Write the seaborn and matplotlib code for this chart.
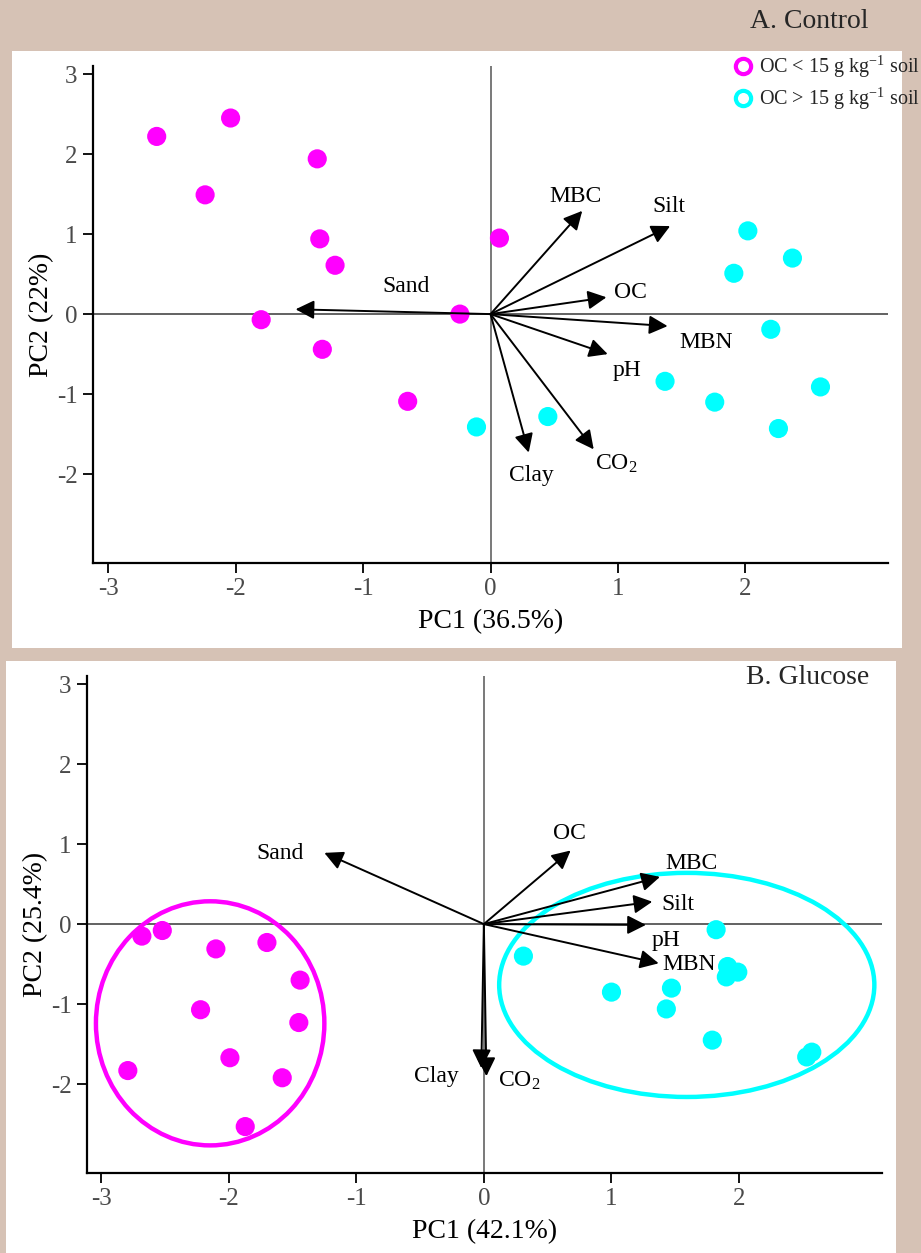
import matplotlib
matplotlib.use('Agg')
import matplotlib.pyplot as plt
import seaborn as sns
import pandas as pd
from matplotlib.patches import Ellipse, Rectangle
from matplotlib.lines import Line2D

# ---------------- data ----------------
groups = ['OC < 15 g kg$^{\\mathregular{-1}}$ soil', 'OC > 15 g kg$^{\\mathregular{-1}}$ soil']

# Panel A (Control) scores
a_low_pc1 = [-2.62, -2.04, -2.24, -1.36, -1.34, -1.22, -1.80, -1.32, -0.24, -0.65, 0.07]
a_low_pc2 = [2.22, 2.45, 1.49, 1.94, 0.94, 0.61, -0.07, -0.44, 0.00, -1.09, 0.95]
a_high_pc1 = [2.02, 2.37, 1.91, 2.20, 2.59, 1.37, 1.76, 2.26, 0.45, -0.11]
a_high_pc2 = [1.04, 0.70, 0.51, -0.19, -0.91, -0.84, -1.10, -1.43, -1.28, -1.41]

# Panel A loadings
a_vars = ['Sand', 'MBC', 'Silt', 'OC', 'MBN', 'pH', 'CO$_{\\mathregular{2}}$', 'Clay']
a_load1 = [-1.53, 0.72, 1.41, 0.91, 1.39, 0.92, 0.81, 0.30]
a_load2 = [0.06, 1.29, 1.10, 0.21, -0.15, -0.50, -1.69, -1.73]
a_lab1 = [-0.66, 0.67, 1.40, 1.10, 1.69, 1.07, 0.99, 0.32]
a_lab2 = [0.34, 1.47, 1.34, 0.27, -0.36, -0.70, -1.87, -2.02]

# Panel B (Glucose) scores
b_low_pc1 = [-2.68, -2.52, -2.10, -1.70, -1.44, -2.22, -1.45, -1.99, -2.79, -1.58, -1.87]
b_low_pc2 = [-0.15, -0.08, -0.31, -0.23, -0.70, -1.07, -1.23, -1.67, -1.83, -1.92, -2.53]
b_high_pc1 = [0.31, 1.82, 1.00, 1.47, 1.43, 1.91, 1.99, 1.90, 1.79, 2.57, 2.53]
b_high_pc2 = [-0.40, -0.07, -0.85, -0.80, -1.06, -0.53, -0.60, -0.66, -1.45, -1.60, -1.66]

# Panel B loadings
b_vars = ['Sand', 'OC', 'MBC', 'Silt', 'pH', 'MBN', 'CO$_{\\mathregular{2}}$', 'Clay']
b_load1 = [-1.25, 0.68, 1.38, 1.32, 1.27, 1.37, 0.02, -0.02]
b_load2 = [0.89, 0.92, 0.59, 0.28, -0.01, -0.49, -1.90, -1.80]
b_lab1 = [-1.60, 0.67, 1.63, 1.52, 1.43, 1.61, 0.28, -0.37]
b_lab2 = [0.88, 1.13, 0.76, 0.25, -0.20, -0.51, -1.96, -1.91]

# Panel B group ellipses (centre x, centre y, width, height)
b_ell_low = [-2.145, -1.24, 1.79, 3.05]
b_ell_high = [1.59, -0.76, 2.94, 2.80]

xticks = [-3, -2, -1, 0, 1, 2]
yticks = [-2, -1, 0, 1, 2, 3]

MAGENTA = '#FF00FF'
CYAN = '#00FFFF'
TAN = '#D6C2B5'

# ---------------- style ----------------
sns.set_style('white')
plt.rcParams['font.family'] = ['Liberation Serif', 'DejaVu Serif']
plt.rcParams['mathtext.fontset'] = 'custom'
plt.rcParams['mathtext.rm'] = 'Liberation Serif'
plt.rcParams['mathtext.it'] = 'Liberation Serif:italic'

W, H = 921, 1253
fig = plt.figure(figsize=(W / 100, H / 100), dpi=100, facecolor=TAN)


def px_rect(x0, y0, x1, y1):
    return (x0 / W, 1 - y1 / H, (x1 - x0) / W, (y1 - y0) / H)


for (x0, y0, x1, y1) in [(12, 51, 902, 648), (6, 661, 896, 1253)]:
    l, b, w, h = px_rect(x0, y0, x1, y1)
    fig.add_artist(Rectangle((l, b), w, h, transform=fig.transFigure,
                             facecolor='white', edgecolor='none', zorder=-5))

axA = fig.add_axes(px_rect(93, 66, 888, 563))
axB = fig.add_axes(px_rect(87, 676, 882, 1173))


def make_df(l1, l2, h1, h2):
    return pd.DataFrame({
        'PC1': l1 + h1,
        'PC2': l2 + h2,
        'group': [groups[0]] * len(l1) + [groups[1]] * len(h1),
    })


def style_axes(ax, xlabel, ylabel, ylim, xlim):
    ax.set_facecolor('none')
    ax.set_xlim(*xlim)
    ax.set_ylim(*ylim)
    ax.axhline(0, color='#555555', lw=1.3, zorder=1)
    ax.axvline(0, color='#555555', lw=1.1, zorder=1)
    for s in ['top', 'right']:
        ax.spines[s].set_visible(False)
    for s in ['left', 'bottom']:
        ax.spines[s].set_color('black')
        ax.spines[s].set_linewidth(1.6)
    ax.set_xticks(xticks)
    ax.set_yticks(yticks)
    ax.set_xticklabels([str(t) for t in xticks])
    ax.set_yticklabels([str(t) for t in yticks])
    ax.tick_params(axis='both', direction='out', length=7, width=1.3,
                   color='black', labelsize=18, labelcolor='#4a4a4a', pad=4,
                   left=True, bottom=True)
    ax.set_xlabel(xlabel, fontsize=20, color='black', labelpad=6)
    ax.set_ylabel(ylabel, fontsize=20, color='black', labelpad=2)


def draw_loadings(ax, names, l1, l2, t1, t2):
    for n, x, y, tx, ty in zip(names, l1, l2, t1, t2):
        ax.annotate('', xy=(x, y), xytext=(0, 0),
                    arrowprops=dict(arrowstyle='-|>,head_length=0.75,head_width=0.38',
                                    color='black', lw=1.4, mutation_scale=15,
                                    shrinkA=0, shrinkB=0), zorder=4)
        ax.text(tx, ty, n, fontsize=17, ha='center', va='center', color='black', zorder=5)


palette = {groups[0]: MAGENTA, groups[1]: CYAN}

# Panel A
dfA = make_df(a_low_pc1, a_low_pc2, a_high_pc1, a_high_pc2)
sns.scatterplot(data=dfA, x='PC1', y='PC2', hue='group', palette=palette, s=190,
                linewidth=0, ax=axA, legend=False, zorder=3)
style_axes(axA, 'PC1 (36.5%)', 'PC2 (22%)', (-3.11, 3.1), (-3.12, 3.12))
draw_loadings(axA, a_vars, a_load1, a_load2, a_lab1, a_lab2)

# Panel B
dfB = make_df(b_low_pc1, b_low_pc2, b_high_pc1, b_high_pc2)
sns.scatterplot(data=dfB, x='PC1', y='PC2', hue='group', palette=palette, s=190,
                linewidth=0, ax=axB, legend=False, zorder=3)
style_axes(axB, 'PC1 (42.1%)', 'PC2 (25.4%)', (-3.11, 3.1), (-3.11, 3.12))
draw_loadings(axB, b_vars, b_load1, b_load2, b_lab1, b_lab2)
for e, c in [(b_ell_low, MAGENTA), (b_ell_high, CYAN)]:
    axB.add_patch(Ellipse((e[0], e[1]), e[2], e[3], fill=False, edgecolor=c, lw=3.2, zorder=2))

# Titles
fig.text(809 / W, 1 - 22 / H, 'A. Control', fontsize=20, ha='center', va='center')
fig.text(808 / W, 1 - 677 / H, 'B. Glucose', fontsize=20, ha='center', va='center')

# Legend
handles = [Line2D([], [], marker='o', ls='none', markersize=11, markerfacecolor='white',
                  markeredgecolor=c, markeredgewidth=3) for c in (MAGENTA, CYAN)]
fig.legend(handles, groups, loc='upper left', bbox_to_anchor=(731 / W, 1 - 54 / H),
           frameon=False, fontsize=14.5, handletextpad=0.2, labelspacing=0.3,
           borderaxespad=0, borderpad=0, handlelength=1.2)

fig.savefig('out.png', dpi=100, facecolor=TAN)
